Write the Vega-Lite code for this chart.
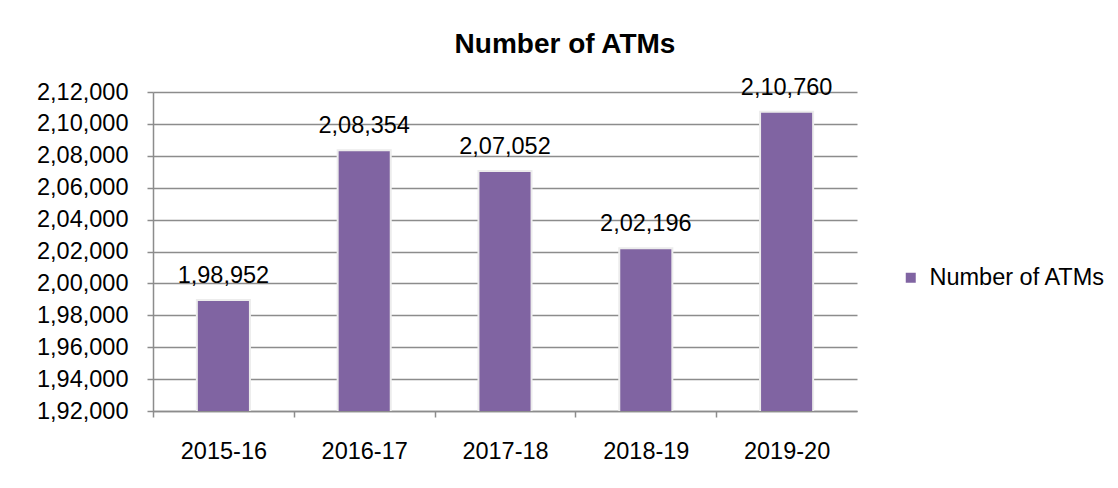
{
  "$schema": "https://vega.github.io/schema/vega-lite/v6.json",
  "autosize": "none",
  "width": 704,
  "height": 319,
  "padding": {"left": 153, "top": 92, "right": 261, "bottom": 77},
  "background": "white",
  "title": {
    "text": "Number of ATMs",
    "anchor": "middle",
    "frame": "group",
    "font": "Liberation Sans",
    "fontSize": 28,
    "fontWeight": "bold",
    "color": "#000000",
    "baseline": "alphabetic",
    "dx": 60,
    "offset": -5
  },
  "data": {
    "values": [
      {"year": "2015-16", "atms": 198952},
      {"year": "2016-17", "atms": 208354},
      {"year": "2017-18", "atms": 207052},
      {"year": "2018-19", "atms": 202196},
      {"year": "2019-20", "atms": 210760}
    ]
  },
  "transform": [
    {"calculate": "format(floor(datum.atms/100000),'d') + ',' + format(floor((datum.atms%100000)/1000),'02d') + ',' + format(datum.atms%1000,'03d')", "as": "label"}
  ],
  "encoding": {
    "x": {
      "field": "year",
      "type": "nominal",
      "sort": null,
      "scale": {"paddingInner": 0.623, "paddingOuter": 0.3115},
      "axis": {
        "title": null,
        "labelAngle": 0,
        "labelFont": "Liberation Sans",
        "labelFontSize": 23.5,
        "labelColor": "#000000",
        "labelBaseline": "top",
        "labelPadding": 22,
        "tickOffset": -70.4,
        "labelOffset": 70.4,
        "tickSize": 6,
        "tickColor": "#8c8c8c",
        "tickWidth": 1.5,
        "domainColor": "#8c8c8c",
        "domainWidth": 1.5,
        "grid": false
      }
    },
    "y": {
      "field": "atms",
      "type": "quantitative",
      "scale": {"domain": [192000, 212000], "nice": false, "zero": false},
      "axis": {
        "title": null,
        "values": [192000, 194000, 196000, 198000, 200000, 202000, 204000, 206000, 208000, 210000, 212000],
        "labelExpr": "format(floor(datum.value/100000),'d') + ',' + format(floor((datum.value%100000)/1000),'02d') + ',' + format(datum.value%1000,'03d')",
        "labelFont": "Liberation Sans",
        "labelFontSize": 23.5,
        "labelColor": "#000000",
        "labelPadding": 19,
        "tickSize": 6,
        "tickColor": "#8c8c8c",
        "tickWidth": 1.5,
        "domainColor": "#8c8c8c",
        "domainWidth": 1.5,
        "grid": true,
        "gridColor": "#8c8c8c",
        "gridWidth": 1.5
      }
    }
  },
  "layer": [
    {
      "mark": {"type": "bar", "clip": true, "stroke": "#ececec", "strokeWidth": 2},
      "encoding": {
        "color": {
          "datum": "Number of ATMs",
          "scale": {"range": ["#8064A2"]},
          "legend": {
            "title": null,
            "orient": "none",
            "legendX": 746,
            "legendY": 174,
            "padding": 0,
            "symbolType": "square",
            "symbolSize": 100,
            "symbolStrokeWidth": 0,
            "labelFont": "Liberation Sans",
            "labelFontSize": 23.5,
            "labelLimit": 400,
            "labelColor": "#000000",
            "labelOffset": 7
          }
        }
      }
    },
    {
      "mark": {"type": "text", "font": "Liberation Sans", "fontSize": 23.5, "color": "#000000", "baseline": "alphabetic", "align": "center", "dy": -17},
      "encoding": {"text": {"field": "label"}}
    }
  ],
  "config": {"view": {"stroke": null}}
}
